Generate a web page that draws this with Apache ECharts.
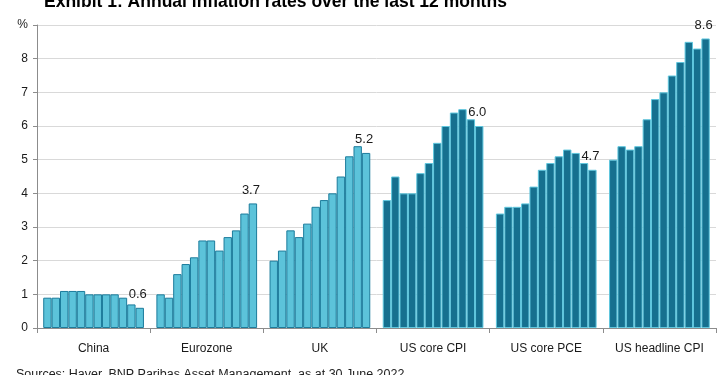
<!DOCTYPE html>
<html>
<head>
<meta charset="utf-8">
<script src="https://cdn.jsdelivr.net/npm/echarts@6/dist/echarts.min.js"></script>
<style>
  html, body { margin: 0; padding: 0; background: #fff; }
  #main { width: 725px; height: 375px; }
</style>
</head>
<body>
<div id="main"></div>
<script>
var groups = ['China', 'Eurozone', 'UK', 'US core CPI', 'US core PCE', 'US headline CPI'];

// last 12 months, oldest first
var china = [0.9, 0.9, 1.1, 1.1, 1.1, 1.0, 1.0, 1.0, 1.0, 0.9, 0.7, 0.6];
var eurozone = [1.0, 0.9, 1.6, 1.9, 2.1, 2.6, 2.6, 2.3, 2.7, 2.9, 3.4, 3.7];
var uk = [2.0, 2.3, 2.9, 2.7, 3.1, 3.6, 3.8, 4.0, 4.5, 5.1, 5.4, 5.2];
var usCoreCpi = [3.8, 4.5, 4.0, 4.0, 4.6, 4.9, 5.5, 6.0, 6.4, 6.5, 6.2, 6.0];
var usCorePce = [3.4, 3.6, 3.6, 3.7, 4.2, 4.7, 4.9, 5.1, 5.3, 5.2, 4.9, 4.7];
var usHeadlineCpi = [5.0, 5.4, 5.3, 5.4, 6.2, 6.8, 7.0, 7.5, 7.9, 8.5, 8.3, 8.6];

var yTicks = [0, 1, 2, 3, 4, 5, 6, 7, 8, '%'];

var allData = [china, eurozone, uk, usCoreCpi, usCorePce, usHeadlineCpi];

var lightStyle = { color: '#5cc3da', borderColor: '#1c7c9c', borderWidth: 1 };
var darkStyle = { color: '#16708f', borderColor: '#5fc7de', borderWidth: 1 };

var series = [];
for (var m = 0; m < 12; m++) {
  series.push({
    type: 'bar',
    barGap: '0%',
    barCategoryGap: '11%',
    data: allData.map(function (arr, g) {
      return { value: arr[m], itemStyle: g < 3 ? lightStyle : darkStyle };
    }),
    label: {
      show: m === 11,
      position: 'top',
      distance: 7,
      offset: [-2, 0],
      color: '#1a1a1a',
      fontSize: 13,
      fontFamily: 'Liberation Sans',
      formatter: function (p) { return p.value.toFixed(1); }
    },
    emphasis: { disabled: true }
  });
}

var chart = echarts.init(document.getElementById('main'), null, { renderer: 'canvas' });

var option = {
  animation: false,
  textStyle: { fontFamily: 'Liberation Sans' },
  title: [
    {
      text: 'Exhibit 1: Annual inflation rates over the last 12 months',
      left: 44,
      top: -7,
      padding: 0,
      textStyle: { fontSize: 17.5, fontWeight: 'bold', color: '#000', fontFamily: 'Liberation Sans' }
    },
    {
      text: 'Sources: Haver, BNP Paribas Asset Management, as at 30 June 2022',
      left: 16,
      top: 368,
      padding: 0,
      textStyle: { fontSize: 12.5, fontWeight: 'normal', color: '#222', fontFamily: 'Liberation Sans' }
    }
  ],
  grid: { left: 37, right: 9, top: 25, bottom: 47, containLabel: false },
  xAxis: {
    type: 'category',
    data: groups,
    axisLine: { lineStyle: { color: '#8c8c8c' } },
    axisTick: { show: true, length: 5, lineStyle: { color: '#8c8c8c' } },
    axisLabel: { color: '#1a1a1a', fontSize: 12, margin: 15, interval: 0 }
  },
  yAxis: {
    type: 'value',
    min: 0,
    max: 9,
    interval: 1,
    axisLine: { show: true, lineStyle: { color: '#8c8c8c' } },
    axisTick: { show: true, length: 4, lineStyle: { color: '#8c8c8c' } },
    axisLabel: {
      color: '#1a1a1a',
      fontSize: 12,
      margin: 9,
      formatter: function (v) { return String(yTicks[v]); }
    },
    splitLine: { lineStyle: { color: '#d9d9d9' } }
  },
  series: series
};

chart.setOption(option);
</script>
</body>
</html>
